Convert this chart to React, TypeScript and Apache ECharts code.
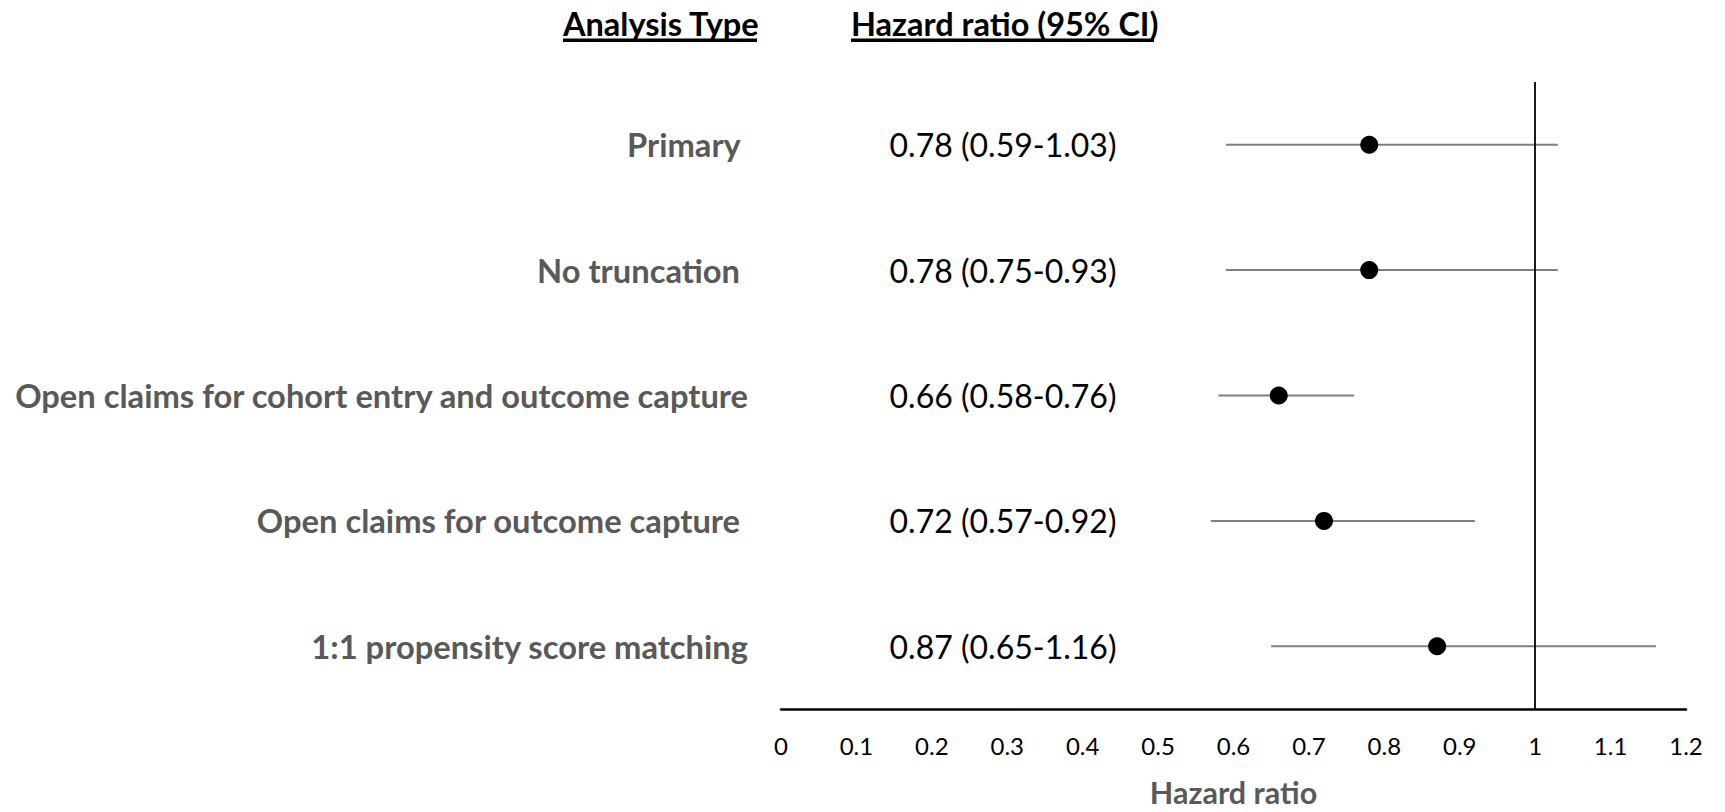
import React, { useEffect, useRef } from "react";
import * as echarts from "echarts";

const analysisTypes = [
  "Primary ",
  "No truncation ",
  "Open claims for cohort entry and outcome capture",
  "Open claims for outcome capture ",
  "1:1 propensity score matching",
];
const hrLabels = [
  "0.78 (0.59-1.03)",
  "0.78 (0.75-0.93)",
  "0.66 (0.58-0.76)",
  "0.72 (0.57-0.92)",
  "0.87 (0.65-1.16)",
];
const estimates = [0.78, 0.78, 0.66, 0.72, 0.87];
const lowerCI = [0.59, 0.59, 0.58, 0.57, 0.65];
const upperCI = [1.03, 1.03, 0.76, 0.92, 1.16];
const xTicks = [0, 0.1, 0.2, 0.3, 0.4, 0.5, 0.6, 0.7, 0.8, 0.9, 1, 1.1, 1.2];

const FONT = "Lato";

export default function App() {
  const ref = useRef<HTMLDivElement>(null);
  useEffect(() => {
    if (!ref.current) return;
    const chart = echarts.init(ref.current, undefined, { renderer: "svg" });
    const ciData = analysisTypes.map((_, i) => [lowerCI[i], upperCI[i], i]);
    const pointData = analysisTypes.map((_, i) => [estimates[i], i]);
    chart.setOption({
      animation: false,
      backgroundColor: "#ffffff",
      textStyle: { fontFamily: FONT },
      grid: { left: 781, right: 39, top: 82, bottom: 99, containLabel: false },
      xAxis: {
        type: "value",
        min: 0,
        max: 1.2,
        interval: 0.1,
        axisLine: { show: true, lineStyle: { color: "#000000", width: 2.5 } },
        axisTick: { show: false },
        splitLine: { show: false },
        axisLabel: {
          margin: 24,
          fontSize: 24,
          color: "#000000",
          fontFamily: FONT,
          formatter: (v: number) => {
            const t = xTicks.find((x) => Math.abs(x - v) < 1e-6);
            return t === undefined ? "" : String(t);
          },
        },
        name: "Hazard ratio",
        nameLocation: "middle",
        nameGap: 67,
        nameTextStyle: { fontSize: 30.5, fontWeight: "bold", color: "#595959", fontFamily: FONT },
      },
      yAxis: [
        {
          type: "category",
          inverse: true,
          data: analysisTypes,
          axisLine: { show: false },
          axisTick: { show: false },
          splitLine: { show: false },
          axisLabel: {
            margin: 33,
            fontSize: 32.7,
            fontWeight: "bold",
            color: "#595959",
            fontFamily: FONT,
          },
        },
        {
          type: "category",
          inverse: true,
          position: "left",
          data: hrLabels,
          axisLine: { show: false },
          axisTick: { show: false },
          splitLine: { show: false },
          axisLabel: {
            margin: -222,
            align: "center",
            fontSize: 32,
            color: "#000000",
            fontFamily: FONT,
          },
        },
      ],
      graphic: [
        {
          type: "text",
          left: 563,
          top: 7,
          style: { text: "Analysis Type", fontSize: 32.5, fontWeight: "bold", fill: "#000000", fontFamily: FONT },
        },
        { type: "rect", shape: { x: 563, y: 38.5, width: 194, height: 3.5 }, style: { fill: "#000000" } },
        {
          type: "text",
          left: 851,
          top: 7,
          style: { text: "Hazard ratio (95% CI)", fontSize: 32.5, fontWeight: "bold", fill: "#000000", fontFamily: FONT },
        },
        { type: "rect", shape: { x: 851, y: 38.5, width: 303, height: 3.5 }, style: { fill: "#000000" } },
      ],
      series: [
        {
          type: "custom",
          xAxisIndex: 0,
          yAxisIndex: 0,
          data: ciData,
          encode: { x: [0, 1], y: 2 },
          renderItem: (params: any, api: any) => {
            const lo = api.coord([api.value(0), api.value(2)]);
            const hi = api.coord([api.value(1), api.value(2)]);
            return {
              type: "line",
              shape: { x1: lo[0], y1: lo[1], x2: hi[0], y2: hi[1] },
              style: { stroke: "#7f7f7f", lineWidth: 2 },
            };
          },
          z: 2,
        },
        {
          type: "scatter",
          xAxisIndex: 0,
          yAxisIndex: 0,
          data: pointData,
          symbol: "circle",
          symbolSize: 18,
          itemStyle: { color: "#000000", opacity: 1 },
          z: 4,
          markLine: {
            silent: true,
            symbol: "none",
            label: { show: false },
            lineStyle: { color: "#000000", width: 1.8, type: "solid" },
            data: [{ xAxis: 1 }],
            z: 3,
          },
        },
      ],
    });
    return () => chart.dispose();
  }, []);
  return (
    <div
      ref={ref}
      style={{ position: "fixed", left: 0, top: 0, width: 1725, height: 812 }}
    />
  );
}
